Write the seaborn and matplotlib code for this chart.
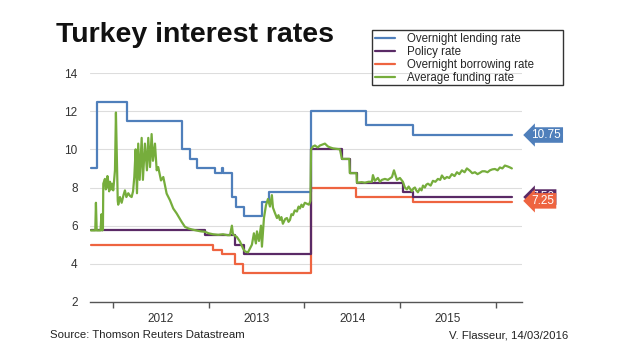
import matplotlib
matplotlib.use("Agg")
import matplotlib.pyplot as plt
from matplotlib.patches import Rectangle
import seaborn as sns

# Dates as decimal years, values in %
lend_t = [2011.770, 2011.833, 2012.146, 2012.721, 2012.805, 2012.878, 2013.066, 2013.139, 2013.149,
          2013.243, 2013.285, 2013.369, 2013.557, 2013.630, 2014.069, 2014.644, 2015.135, 2016.169]
lend_v = [9.0, 12.5, 11.5, 10.0, 9.5, 9.0, 8.75, 9.0, 8.75,
          7.5, 7.0, 6.5, 7.25, 7.75, 12.0, 11.25, 10.75, 10.75]

policy_t = [2011.770, 2012.961, 2013.275, 2013.369, 2014.069, 2014.393, 2014.476, 2014.550,
            2015.030, 2015.135, 2016.169]
policy_v = [5.75, 5.5, 5.0, 4.5, 10.0, 9.5, 8.75, 8.25, 7.75, 7.5, 7.5]

borrow_t = [2011.770, 2013.045, 2013.139, 2013.275, 2013.358, 2014.069, 2014.539, 2015.135, 2016.169]
borrow_v = [5.0, 4.75, 4.5, 4.0, 3.5, 8.0, 7.5, 7.25, 7.25]

fund_t = [2011.770, 2011.815, 2011.822, 2011.830, 2011.870, 2011.880, 2011.888, 2011.895, 2011.899,
          2011.916, 2011.925, 2011.934, 2011.942, 2011.951, 2011.960, 2011.969, 2011.979, 2011.990,
          2012.003, 2012.021, 2012.031, 2012.042, 2012.050, 2012.055, 2012.073, 2012.091, 2012.110,
          2012.125, 2012.140, 2012.160, 2012.180, 2012.195, 2012.210, 2012.223, 2012.237, 2012.251,
          2012.264, 2012.279, 2012.300, 2012.313, 2012.334, 2012.355, 2012.369, 2012.387, 2012.404,
          2012.418, 2012.439, 2012.457, 2012.473, 2012.502, 2012.526, 2012.561, 2012.596, 2012.630,
          2012.666, 2012.718, 2012.752, 2012.790, 2012.826, 2012.870, 2012.920, 2012.961, 2013.000,
          2013.045, 2013.100, 2013.150, 2013.200, 2013.223, 2013.243, 2013.254, 2013.296, 2013.327,
          2013.360, 2013.379, 2013.411, 2013.452, 2013.473, 2013.494, 2013.505, 2013.526, 2013.547,
          2013.557, 2013.578, 2013.599, 2013.620, 2013.641, 2013.661, 2013.672, 2013.690, 2013.714,
          2013.730, 2013.745, 2013.760, 2013.776, 2013.800, 2013.818, 2013.835, 2013.850, 2013.865,
          2013.881, 2013.900, 2013.923, 2013.940, 2013.954, 2013.970, 2013.985, 2014.005, 2014.027,
          2014.048, 2014.064, 2014.070, 2014.090, 2014.111, 2014.140, 2014.163, 2014.190, 2014.215,
          2014.247, 2014.270, 2014.299, 2014.372, 2014.393, 2014.470, 2014.476, 2014.545, 2014.550,
          2014.600, 2014.633, 2014.670, 2014.706, 2014.717, 2014.737, 2014.769, 2014.790, 2014.811,
          2014.842, 2014.874, 2014.916, 2014.937, 2014.968, 2014.999, 2015.030, 2015.051, 2015.072,
          2015.090, 2015.103, 2015.124, 2015.140, 2015.156, 2015.170, 2015.187, 2015.208, 2015.225,
          2015.240, 2015.260, 2015.275, 2015.292, 2015.320, 2015.344, 2015.370, 2015.396, 2015.420,
          2015.438, 2015.465, 2015.490, 2015.515, 2015.542, 2015.570, 2015.595, 2015.620, 2015.647,
          2015.675, 2015.699, 2015.730, 2015.755, 2015.783, 2015.810, 2015.835, 2015.860, 2015.887,
          2015.915, 2015.940, 2015.965, 2015.992, 2016.020, 2016.044, 2016.070, 2016.096, 2016.127,
          2016.150, 2016.169]
fund_v = [5.75, 5.75, 7.2, 5.75, 5.75, 6.6, 5.75, 5.8, 8.2,
          8.45, 7.9, 8.0, 8.6, 8.3, 7.8, 8.3, 7.9, 8.2,
          7.85, 8.9, 11.93, 9.3, 7.3, 7.1, 7.5, 7.2, 7.6,
          7.85, 7.5, 7.7, 7.55, 7.5, 7.8, 8.55, 10.0, 7.7,
          10.3, 8.4, 10.6, 8.4, 10.3, 8.9, 10.6, 9.07, 10.8,
          9.4, 10.3, 8.9, 9.07, 8.37, 8.55, 7.68, 7.33, 6.9,
          6.64, 6.2, 5.94, 5.85, 5.8, 5.75, 5.7, 5.68, 5.6,
          5.55, 5.52, 5.55, 5.5, 5.5, 6.0, 5.55, 5.4, 5.17,
          4.8, 4.65, 4.6, 5.0, 5.6, 5.07, 5.7, 5.2, 6.0,
          4.9, 6.4, 7.07, 7.4, 7.0, 7.6, 6.95, 6.7, 6.4,
          6.55, 6.3, 6.45, 6.1, 6.35, 6.4, 6.2, 6.3, 6.6,
          6.55, 6.8, 6.74, 7.0, 6.9, 7.1, 6.98, 7.2, 7.15,
          7.1, 7.3, 10.0, 10.15, 10.2, 10.1, 10.2, 10.25, 10.3,
          10.15, 10.1, 10.05, 10.0, 9.5, 9.5, 8.75, 8.75, 8.25,
          8.28, 8.25, 8.3, 8.3, 8.65, 8.35, 8.5, 8.3, 8.4,
          8.45, 8.4, 8.55, 8.9, 8.4, 8.5, 8.3, 8.0, 7.9,
          8.05, 7.95, 7.8, 7.95, 8.0, 7.85, 7.75, 7.95, 7.85,
          8.1, 8.0, 8.15, 8.2, 8.1, 8.35, 8.3, 8.45, 8.4,
          8.63, 8.45, 8.55, 8.5, 8.7, 8.6, 8.8, 8.7, 8.9,
          8.8, 9.0, 8.88, 8.75, 8.8, 8.7, 8.77, 8.85, 8.85,
          8.8, 8.9, 8.95, 8.97, 8.9, 9.05, 9.0, 9.15, 9.1,
          9.05, 9.0]

years = [2012, 2013, 2014, 2015]
series_names = ["Overnight lending rate", "Policy rate", "Overnight borrowing rate", "Average funding rate"]
colors = ["#4f7fbb", "#5a2a66", "#ee6440", "#76ad3c"]
last_labels = ["10.75", "7.50", "7.25"]

sns.set_theme(style="white")
plt.rcParams["font.family"] = ["Liberation Sans", "DejaVu Sans"]

fig = plt.figure(figsize=(6.2, 3.55), dpi=100)
ax = fig.add_axes([90 / 620, 53 / 355, 432 / 620, 229 / 355])

sns.lineplot(x=lend_t, y=lend_v, ax=ax, color=colors[0], lw=1.6, drawstyle="steps-post",
             estimator=None, sort=False, label=series_names[0])
sns.lineplot(x=policy_t, y=policy_v, ax=ax, color=colors[1], lw=1.6, drawstyle="steps-post",
             estimator=None, sort=False, label=series_names[1])
sns.lineplot(x=borrow_t, y=borrow_v, ax=ax, color=colors[2], lw=1.6, drawstyle="steps-post",
             estimator=None, sort=False, label=series_names[2])
sns.lineplot(x=fund_t, y=fund_v, ax=ax, color=colors[3], lw=1.6,
             estimator=None, sort=False, label=series_names[3])
# borrowing drawn under policy
ax.lines[2].set_zorder(1.5)

ax.set_xlim(2011.76, 2016.275)
ax.set_ylim(2, 14)
ax.set_yticks([2, 4, 6, 8, 10, 12, 14])
ax.yaxis.grid(True, color="#dddddd", lw=0.8)
ax.set_axisbelow(True)
for s in ["top", "right", "left"]:
    ax.spines[s].set_visible(False)
ax.spines["bottom"].set_color("#555555")
ax.spines["bottom"].set_linewidth(1.0)
ax.tick_params(axis="y", length=0, pad=9, labelsize=8.5, labelcolor="#333333")

ax.set_xticks([y for y in years + [2016]])
ax.set_xticklabels([])
ax.set_xticks([y + 0.5 for y in years], minor=True)
ax.set_xticklabels([str(y) for y in years], minor=True, fontsize=8.5, color="#333333")
ax.tick_params(axis="x", which="major", length=4, width=1, color="#555555", direction="out", bottom=True)
ax.tick_params(axis="x", which="minor", length=0, pad=8)
ax.set_xlabel("")
ax.set_ylabel("")

# last value tags (7.25 tag sits over the 7.50 one, as in the original)
tag_vals = [lend_v[-1], policy_v[-1], borrow_v[-1] + 0.05]
for txt, val, c in zip(last_labels, tag_vals, colors[:3]):
    ax.annotate(txt, xy=(1.022, val), xycoords=("axes fraction", "data"), ha="left", va="center",
                fontsize=8.5, color="white", annotation_clip=False,
                bbox=dict(boxstyle="larrow,pad=0.15", fc=c, ec="none"))

ax.get_legend().remove()
handles, labels = ax.get_legend_handles_labels()
fig.legend(handles, labels, loc="upper left", bbox_to_anchor=(375 / 620, 1 - 33 / 355),
           frameon=False, fontsize=8.3, handlelength=1.7, handletextpad=1.1,
           labelspacing=0.1, borderpad=0, borderaxespad=0)
fig.patches.append(Rectangle((372 / 620, 1 - 85 / 355), 191 / 620, 55 / 355, fill=False,
                             ec="#333333", lw=1, transform=fig.transFigure, figure=fig))

fig.text(56 / 620, 1 - 42 / 355, "Turkey interest rates", fontsize=20.5, fontweight="bold",
         color="#111111", va="baseline")
fig.text(50 / 620, 1 - 335 / 355, "Source: Thomson Reuters Datastream", fontsize=8.2,
         color="#222222", va="center")
fig.text(568 / 620, 1 - 335 / 355, "V. Flasseur, 14/03/2016", fontsize=8.2,
         color="#222222", va="center", ha="right")

fig.savefig("out.png", dpi=100)
